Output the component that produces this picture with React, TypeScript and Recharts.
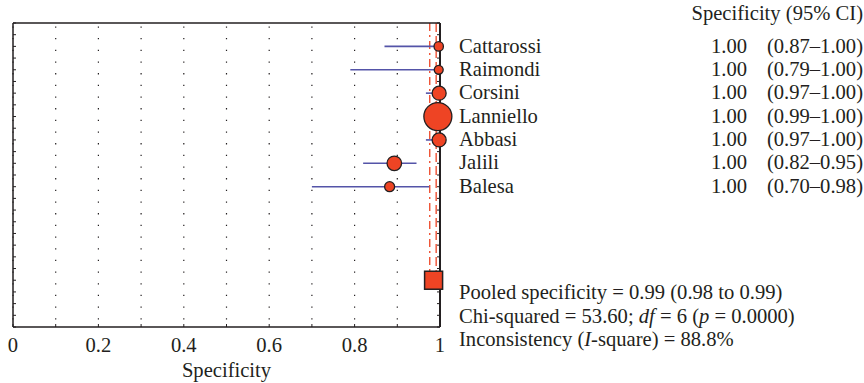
import { ScatterChart, Scatter, XAxis, YAxis, ZAxis, CartesianGrid, ReferenceLine, ErrorBar, LabelList } from 'recharts';

// studies, top to bottom
const studies = ['Cattarossi', 'Raimondi', 'Corsini', 'Lanniello', 'Abbasi', 'Jalili', 'Balesa'];
const estimateLabels = ['1.00', '1.00', '1.00', '1.00', '1.00', '1.00', '1.00'];
const ciLabels = ['(0.87–1.00)', '(0.79–1.00)', '(0.97–1.00)', '(0.99–1.00)', '(0.97–1.00)', '(0.82–0.95)', '(0.70–0.98)'];

// plotted values
const pointX = [0.997, 0.997, 0.998, 0.995, 0.998, 0.893, 0.882];
const ciLow = [0.87, 0.79, 0.967, 0.99, 0.967, 0.82, 0.70];
const ciHigh = [1.0, 1.0, 1.0, 1.0, 1.0, 0.945, 0.975];
const weights = [22, 20, 49, 196, 49, 53, 25];

const pooledEstimate = 0.985;
const pooledLine = 0.991;
const pooledLowLine = 0.976;
const pooledRow = 10;

const xTicks = [0, 0.1, 0.2, 0.3, 0.4, 0.5, 0.6, 0.7, 0.8, 0.9, 1];
const xTickLabels = ['0', '', '0.2', '', '0.4', '', '0.6', '', '0.8', '', '1'];
const yTicks = Array.from({ length: 27 }, (_, i) => -1 + i * 0.5);

const FONT = '"Liberation Serif", "Times New Roman", serif';
const FS = 20.6;
const INK = '#231f20';
const RED = '#ee4424';
const BLUE = '#5454a8';

const studyData = studies.map((name, i) => ({
  name,
  x: pointX[i],
  y: i,
  w: weights[i],
  err: [pointX[i] - ciLow[i], ciHigh[i] - pointX[i]],
}));
const pooledData = [{ x: pooledEstimate, y: pooledRow }];

const Square = (props: any) => {
  const { cx, cy } = props;
  return <rect x={cx - 9} y={cy - 9} width={18} height={18} fill={RED} stroke={INK} strokeWidth={1.5} />;
};

const Empty = () => <g />;

// study name + estimate + CI text in the right-hand table, one per row
const RowLabel = (props: any) => {
  const { y, height, index } = props;
  const cy = y + height / 2;
  return (
    <g fontFamily={FONT} fontSize={FS} fill={INK}>
      <text x={459} y={cy} dy="0.3em" textAnchor="start">{studies[index]}</text>
      <text x={747} y={cy} dy="0.3em" textAnchor="end">{estimateLabels[index]}</text>
      <text x={863} y={cy} dy="0.3em" textAnchor="end">{ciLabels[index]}</text>
    </g>
  );
};

export default function App() {
  return (
    <div style={{ position: 'absolute', left: 0, top: 0, width: 864, height: 383, background: '#fff' }}>
      <ScatterChart width={864} height={383} margin={{ top: 0, right: 0, bottom: 0, left: 0 }}>
        <CartesianGrid
          xAxisId="b"
          yAxisId="l"
          horizontal={false}
          stroke={INK}
          strokeWidth={1.2}
          strokeDasharray="1.3 10.37"
          strokeDashoffset={8.27}
        />
        <XAxis
          xAxisId="b"
          type="number"
          dataKey="x"
          domain={[0, 1]}
          ticks={xTicks}
          interval={0}
          height={56}
          tickSize={-3}
          tickMargin={13}
          tickFormatter={(v: number) => xTickLabels[Math.round(v * 10)]}
          tick={{ fontFamily: FONT, fontSize: FS, fill: INK }}
          axisLine={{ stroke: INK, strokeWidth: 1.5 }}
          tickLine={{ stroke: INK }}
          label={{ value: 'Specificity', position: 'insideBottom', offset: 6, fontFamily: FONT, fontSize: FS, fill: INK }}
        />
        <XAxis
          xAxisId="t"
          orientation="top"
          type="number"
          domain={[0, 1]}
          height={23}
          tick={false}
          tickLine={false}
          axisLine={{ stroke: INK, strokeWidth: 1.5 }}
        />
        <YAxis
          yAxisId="l"
          type="number"
          dataKey="y"
          domain={[-1, 12]}
          reversed
          ticks={yTicks}
          interval={0}
          width={13}
          tickSize={-3}
          tickFormatter={() => ''}
          axisLine={{ stroke: INK, strokeWidth: 1.5 }}
          tickLine={{ stroke: INK }}
        />
        <YAxis
          yAxisId="r"
          orientation="right"
          type="number"
          dataKey="y"
          domain={[-1, 12]}
          reversed
          ticks={yTicks}
          interval={0}
          width={424}
          tickSize={-3}
          tickFormatter={() => ''}
          axisLine={{ stroke: INK, strokeWidth: 2 }}
          tickLine={{ stroke: INK }}
        />
        <ZAxis dataKey="w" domain={[0, 196]} range={[0, 616]} />
        <ReferenceLine
          xAxisId="b"
          yAxisId="l"
          segment={[{ x: pooledLowLine, y: -1 }, { x: pooledLowLine, y: pooledRow }]}
          stroke={RED}
          strokeWidth={1.3}
          strokeDasharray="8 4 2 4"
        />
        <ReferenceLine
          xAxisId="b"
          yAxisId="l"
          segment={[{ x: pooledLine, y: -1 }, { x: pooledLine, y: pooledRow }]}
          stroke={RED}
          strokeWidth={1.3}
          strokeDasharray="9 4"
        />
        {/* hidden copy so the right frame axis gets its ticks */}
        <Scatter xAxisId="b" yAxisId="r" data={studyData} shape={<Empty />} isAnimationActive={false} />
        <Scatter
          xAxisId="b"
          yAxisId="l"
          data={studyData}
          shape="circle"
          fill={RED}
          stroke={INK}
          strokeWidth={1.3}
          isAnimationActive={false}
        >
          <LabelList dataKey="name" content={<RowLabel />} />
        </Scatter>
        <Scatter xAxisId="b" yAxisId="l" data={studyData} shape={<Empty />} isAnimationActive={false}>
          <ErrorBar dataKey="err" direction="x" width={0} stroke={BLUE} strokeWidth={1.6} />
        </Scatter>
        <Scatter xAxisId="b" yAxisId="l" data={pooledData} shape={<Square />} isAnimationActive={false} />
      </ScatterChart>
      <svg
        width={864}
        height={383}
        style={{ position: 'absolute', left: 0, top: 0, pointerEvents: 'none' }}
        fontFamily={FONT}
        fontSize={FS}
        fill={INK}
      >
        <text x={863} y={20} textAnchor="end">Specificity (95% CI)</text>
        <text x={459} y={299}>Pooled specificity = 0.99 (0.98 to 0.99)</text>
        <text x={459} y={322.5}>
          Chi-squared = 53.60; <tspan fontStyle="italic">df</tspan> = 6 (<tspan fontStyle="italic">p</tspan> = 0.0000)
        </text>
        <text x={459} y={345.5}>
          Inconsistency (<tspan fontStyle="italic">I</tspan>-square) = 88.8%
        </text>
      </svg>
    </div>
  );
}
